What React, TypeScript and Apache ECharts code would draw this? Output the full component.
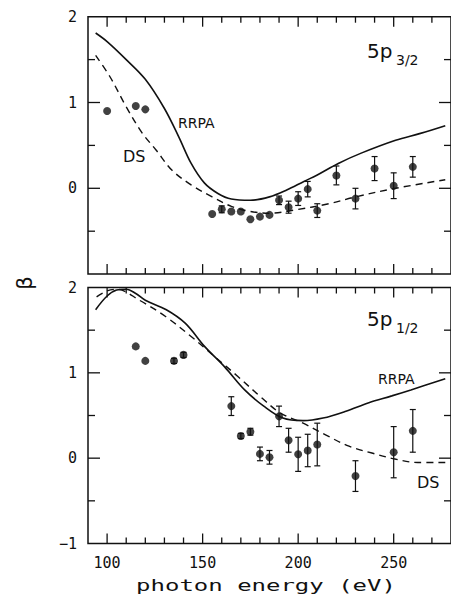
import React, { useEffect, useRef } from "react";
import * as echarts from "echarts";

// ---------- data ----------
const X_MIN = 90;
const X_MAX = 280;
const Y_MIN = -1;
const Y_MAX = 2;
const X_MAJOR_TICKS = [100, 150, 200, 250];
const X_MINOR_TICKS = [110, 120, 130, 140, 160, 170, 180, 190, 210, 220, 230, 240, 260, 270];
const Y_MAJOR_TICKS = [0, 1];
const Y_MINOR_TICKS = [-0.5, 0.5, 1.5];
const Y_LABELS_TOP = [0, 1, 2];
const Y_LABELS_BOTTOM = [-1, 0, 1, 2];

// 5p3/2 panel
const p32RrpaX = [94, 100, 110, 120, 130, 137.5, 144, 151, 158, 165, 175, 185, 194, 203, 210, 221, 233, 251, 264, 277];
const p32RrpaY = [1.81, 1.71, 1.5, 1.27, 0.93, 0.6, 0.29, 0.06, -0.06, -0.125, -0.14, -0.1, -0.02, 0.08, 0.155, 0.29, 0.41, 0.56, 0.64, 0.73];
const p32DsX = [94, 101.5, 110, 118.5, 125.5, 134, 144, 155, 165, 175, 185, 199, 216, 230, 251, 277];
const p32DsY = [1.55, 1.3, 0.95, 0.64, 0.45, 0.21, 0.04, -0.1, -0.21, -0.27, -0.29, -0.25, -0.18, -0.1, 0.0, 0.1];
const p32ExpX = [100, 115, 120, 155, 160, 165, 170, 175, 180, 185, 190, 195, 200, 205, 210, 220, 230, 240, 250, 260];
const p32ExpY = [0.9, 0.96, 0.92, -0.3, -0.245, -0.27, -0.27, -0.36, -0.33, -0.31, -0.14, -0.22, -0.12, -0.01, -0.26, 0.15, -0.12, 0.23, 0.03, 0.25];
const p32ExpErr = [0, 0, 0, 0, 0.04, 0, 0, 0, 0, 0, 0.05, 0.07, 0.08, 0.09, 0.08, 0.11, 0.12, 0.14, 0.15, 0.12];

// 5p1/2 panel
const p12RrpaX = [94, 100, 105, 110, 115, 120, 131, 141, 151, 161.5, 172, 182, 192, 202.5, 213, 225, 237, 249, 259, 277];
const p12RrpaY = [1.74, 1.9, 1.97, 1.98, 1.93, 1.85, 1.74, 1.58, 1.31, 1.07, 0.8, 0.61, 0.47, 0.44, 0.47, 0.55, 0.65, 0.73, 0.8, 0.93];
const p12DsX = [94.5, 100, 105, 117, 130.6, 144.3, 156.3, 168.3, 180.3, 190.6, 202.6, 214.6, 226.6, 238.6, 250.6, 262.6, 277];
const p12DsY = [1.89, 1.96, 1.98, 1.85, 1.66, 1.42, 1.19, 0.96, 0.72, 0.53, 0.41, 0.27, 0.14, 0.06, -0.01, -0.05, -0.05];
const p12ExpX = [115, 120, 135, 140, 165, 170, 175, 180, 185, 190, 195, 200, 205, 210, 230, 250, 260];
const p12ExpY = [1.31, 1.14, 1.14, 1.21, 0.61, 0.26, 0.31, 0.05, 0.01, 0.49, 0.21, 0.045, 0.09, 0.16, -0.21, 0.07, 0.32];
const p12ExpErr = [0, 0, 0.03, 0.03, 0.11, 0.03, 0.04, 0.08, 0.08, 0.12, 0.14, 0.2, 0.19, 0.25, 0.18, 0.3, 0.25];

// ---------- helpers ----------
const INK = "#111";
const MONO = "DejaVu Sans Mono";
const SANS = "DejaVu Sans";
const X_MAJOR_LEN = 10;
const X_MINOR_LEN = 6;
const Y_MAJOR_LEN = 12;
const Y_MINOR_LEN = 7;

const zip = (xs: number[], ys: number[]) => xs.map((x, i) => [x, ys[i]]);
const errData = (xs: number[], ys: number[], es: number[]) =>
  xs.map((x, i) => [x, ys[i] - es[i], ys[i] + es[i]]).filter((_, i) => es[i] > 0);

function xAxisFor(grid: number, withLabels: boolean) {
  return {
    type: "value",
    gridIndex: grid,
    min: X_MIN,
    max: X_MAX,
    splitNumber: 4,
    minInterval: 50,
    maxInterval: 50,
    splitLine: { show: false },
    axisLine: { show: false, onZero: false },
    axisTick: { show: false },
    axisLabel: withLabels
      ? {
          show: true,
          showMinLabel: false,
          showMaxLabel: false,
          margin: 12,
          fontFamily: MONO,
          fontSize: 15,
          color: INK,
        }
      : { show: false },
  };
}

function yAxisFor(grid: number, labels: number[]) {
  return {
    type: "value",
    gridIndex: grid,
    min: Y_MIN,
    max: Y_MAX,
    interval: 1,
    splitLine: { show: false },
    axisLine: { show: false, onZero: false },
    axisTick: { show: false },
    axisLabel: {
      show: true,
      margin: 11,
      fontFamily: MONO,
      fontSize: 15,
      color: INK,
      formatter: (v: number) =>
        labels.indexOf(v) < 0 ? "" : v < 0 ? "\u2212" + Math.abs(v) : String(v),
    },
  };
}

const seg = (x1: number, y1: number, x2: number, y2: number, w = 1.3) => ({
  type: "line",
  shape: { x1, y1, x2, y2 },
  style: { stroke: INK, lineWidth: w },
});

const errRender = (params: any, api: any) => {
  const x = api.value(0);
  const a = api.coord([x, api.value(1)]);
  const b = api.coord([x, api.value(2)]);
  const w = 3;
  return {
    type: "group",
    children: [
      seg(a[0], a[1], b[0], b[1], 1.2),
      seg(a[0] - w, a[1], a[0] + w, a[1], 1.2),
      seg(b[0] - w, b[1], b[0] + w, b[1], 1.2),
    ],
  };
};

function panelSeries(
  axis: number,
  rx: number[], ry: number[],
  dx: number[], dy: number[],
  ex: number[], ey: number[], ee: number[]
) {
  return [
    {
      type: "line",
      xAxisIndex: axis,
      yAxisIndex: axis,
      data: zip(rx, ry),
      smooth: 0.35,
      showSymbol: false,
      lineStyle: { color: INK, width: 1.6 },
      z: 2,
    },
    {
      type: "line",
      xAxisIndex: axis,
      yAxisIndex: axis,
      data: zip(dx, dy),
      smooth: 0.35,
      showSymbol: false,
      lineStyle: { color: INK, width: 1.4, type: [7, 5] },
      z: 2,
    },
    {
      type: "custom",
      xAxisIndex: axis,
      yAxisIndex: axis,
      data: errData(ex, ey, ee),
      renderItem: errRender,
      z: 3,
    },
    {
      type: "scatter",
      xAxisIndex: axis,
      yAxisIndex: axis,
      data: zip(ex, ey),
      symbol: "circle",
      symbolSize: 8,
      itemStyle: { color: INK },
      z: 4,
    },
  ];
}

const txt = (text: string, x: number, y: number, fontSize: number) => ({
  type: "text",
  x,
  y,
  style: {
    text,
    fontSize,
    fontFamily: SANS,
    fill: INK,
    align: "left",
    verticalAlign: "middle",
  },
});

// tick marks placed with the chart's own scales (convertToPixel)
function buildTicks(chart: any): any[] {
  const out: any[] = [];
  [0, 1].forEach((g) => {
    const finder = { xAxisIndex: g, yAxisIndex: g };
    const tl = chart.convertToPixel(finder, [X_MIN, Y_MAX]);
    const br = chart.convertToPixel(finder, [X_MAX, Y_MIN]);
    if (!tl || !br) return;
    const [left, top] = tl;
    const [right, bottom] = br;
    const xt = (v: number, len: number) => {
      const px = chart.convertToPixel(finder, [v, Y_MIN])[0];
      out.push(seg(px, bottom, px, bottom - len));
      out.push(seg(px, top, px, top + len));
    };
    const yt = (v: number, len: number) => {
      const py = chart.convertToPixel(finder, [X_MIN, v])[1];
      out.push(seg(left, py, left + len, py));
      out.push(seg(right, py, right - len, py));
    };
    X_MAJOR_TICKS.forEach((v) => xt(v, X_MAJOR_LEN));
    X_MINOR_TICKS.forEach((v) => xt(v, X_MINOR_LEN));
    Y_MAJOR_TICKS.forEach((v) => yt(v, Y_MAJOR_LEN));
    Y_MINOR_TICKS.forEach((v) => yt(v, Y_MINOR_LEN));
  });
  return out;
}

const labels = [
  txt("5p", 367, 50.5, 20),
  txt("3/2", 396, 60, 14),
  txt("5p", 367, 319, 20),
  txt("1/2", 396, 328, 14),
  txt("RRPA", 178, 123.3, 14),
  txt("DS", 123, 156, 16),
  txt("RRPA", 378, 379, 14),
  txt("DS", 417, 482.5, 16),
  {
    type: "text",
    x: 25,
    y: 283,
    rotation: Math.PI / 2,
    style: { text: "β", fontSize: 21, fontFamily: SANS, fill: INK, align: "center", verticalAlign: "middle" },
  },
  {
    type: "text",
    x: 266,
    y: 586,
    scaleX: 1.5,
    style: {
      text: "photon energy (eV)",
      fontSize: 16,
      fontFamily: MONO,
      fill: INK,
      align: "center",
      verticalAlign: "middle",
    },
  },
];

export default function App() {
  const ref = useRef<HTMLDivElement>(null);
  useEffect(() => {
    if (!ref.current) return;
    const chart = echarts.init(ref.current, undefined, { renderer: "svg" });
    const frame = { show: true, borderColor: INK, borderWidth: 1.5 };
    const option: any = {
      animation: false,
      grid: [
        { left: 88, top: 16.7, width: 369.5, height: 257.4, ...frame },
        { left: 88, top: 287.5, width: 369.5, height: 256, ...frame },
      ],
      xAxis: [xAxisFor(0, false), xAxisFor(1, true)],
      yAxis: [yAxisFor(0, Y_LABELS_TOP), yAxisFor(1, Y_LABELS_BOTTOM)],
      series: [
        ...panelSeries(0, p32RrpaX, p32RrpaY, p32DsX, p32DsY, p32ExpX, p32ExpY, p32ExpErr),
        ...panelSeries(1, p12RrpaX, p12RrpaY, p12DsX, p12DsY, p12ExpX, p12ExpY, p12ExpErr),
      ],
    };
    chart.setOption(option);
    let ticks: any[] = [];
    try {
      ticks = buildTicks(chart);
    } catch (e) {
      ticks = [];
    }
    chart.setOption({ graphic: { elements: [...labels, ...ticks] } });
    return () => chart.dispose();
  }, []);
  return (
    <div style={{ position: "absolute", left: 0, top: 0, width: 451, height: 599, background: "#fff" }}>
      <div ref={ref} style={{ width: 451, height: 599 }} />
    </div>
  );
}
